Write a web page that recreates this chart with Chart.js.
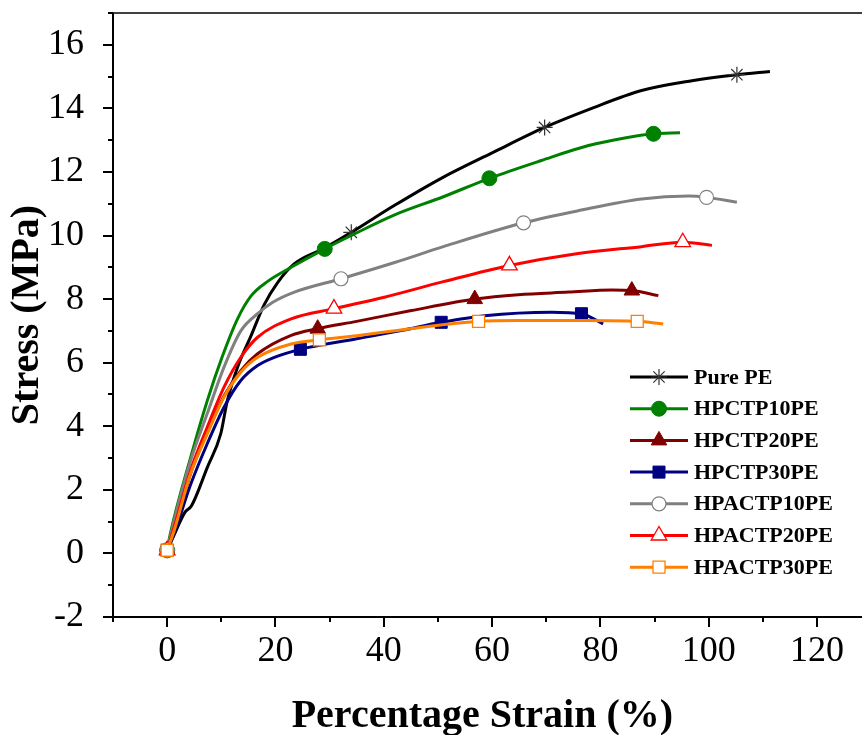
<!DOCTYPE html>
<html>
<head>
<meta charset="utf-8">
<script src="https://cdn.jsdelivr.net/npm/chart.js"></script>
<style>
  html, body { margin: 0; padding: 0; background: #fff; }
  canvas { display: block; }
</style>
</head>
<body>
<canvas id="stressChart" width="862" height="735"></canvas>
<script>
// stress-strain curves (x = strain %, y = stress MPa)
const pureX = [0, 1.2, 3.3, 4.5, 7.4, 9.9, 11.1, 13, 15.5, 17.9, 20.4, 23.4, 29, 34, 42, 50.6, 60, 69.7, 78.4, 87.6, 96.9, 105.2, 111.3];
const pureY = [0.1, 0.55, 1.3, 1.5, 2.7, 3.77, 4.8, 5.86, 6.85, 7.82, 8.52, 9.1, 9.6, 10.1, 10.95, 11.8, 12.6, 13.4, 14.0, 14.56, 14.87, 15.06, 15.16];
const pureMarks = [0, 34, 69.7, 105.2];

const hpctp10X = [0, 0.6, 4.3, 7.4, 10.2, 13, 15.5, 18.5, 22.9, 29.1, 34, 42, 51, 59.5, 69.1, 77.8, 84.5, 89.8, 94.7];
const hpctp10Y = [0.1, 0.63, 3.0, 4.8, 6.2, 7.38, 8.1, 8.55, 9.0, 9.58, 10.0, 10.65, 11.22, 11.8, 12.36, 12.83, 13.07, 13.2, 13.23];
const hpctp10Marks = [0, 29.1, 59.5, 89.8];

const hpctp20X = [0, 1.3, 4.3, 7.4, 10.5, 13.6, 16.7, 22.9, 27.8, 35, 45.1, 56.8, 64.8, 74.1, 82.1, 85.8, 90.7];
const hpctp20Y = [0.1, 0.7, 2.5, 3.8, 4.95, 5.75, 6.28, 6.86, 7.07, 7.3, 7.64, 8.0, 8.14, 8.22, 8.29, 8.27, 8.11];
const hpctp20Marks = [0, 27.8, 56.8, 85.8];

const hpctp30X = [0, 1.3, 4.3, 7.4, 10.5, 13.6, 16.7, 19.8, 24.6, 35, 43.2, 50.6, 58.6, 71, 76.5, 80.5];
const hpctp30Y = [0.1, 0.63, 2.15, 3.45, 4.6, 5.44, 5.91, 6.17, 6.42, 6.75, 7.01, 7.27, 7.48, 7.59, 7.54, 7.22];
const hpctp30Marks = [0, 24.6, 50.6, 76.5];

const hpactp10X = [0, 1.3, 4.3, 7.4, 10.5, 13.6, 16.7, 19.5, 23.5, 32.1, 42, 51, 65.8, 76.5, 87.6, 96.3, 99.6, 105.2];
const hpactp10Y = [0.1, 1.04, 2.9, 4.4, 5.86, 7.0, 7.54, 7.9, 8.22, 8.64, 9.15, 9.65, 10.4, 10.8, 11.15, 11.24, 11.2, 11.05];
const hpactp10Marks = [0, 32.1, 65.8, 99.6];

const hpactp20X = [0, 1.3, 4.3, 7.4, 10.5, 13.6, 16.7, 22.9, 30.8, 40.1, 51, 63.2, 75.3, 87.6, 95.2, 100.6];
const hpactp20Y = [0.1, 0.83, 2.6, 3.97, 5.23, 6.17, 6.8, 7.38, 7.7, 8.06, 8.55, 9.06, 9.42, 9.65, 9.79, 9.69];
const hpactp20Marks = [0, 30.8, 63.2, 95.2];

const hpactp30X = [0, 1.3, 4.3, 7.4, 10.5, 13.6, 16.7, 22.9, 28.1, 35, 43.2, 57.5, 64.8, 77.1, 86.8, 91.6];
const hpactp30Y = [0.1, 0.72, 2.5, 3.76, 4.92, 5.7, 6.17, 6.59, 6.72, 6.85, 7.03, 7.3, 7.33, 7.33, 7.3, 7.22];
const hpactp30Marks = [0, 28.1, 57.5, 86.8];

const xTickLabels = [0, 20, 40, 60, 80, 100, 120];
const yTickLabels = [-2, 0, 2, 4, 6, 8, 10, 12, 14, 16];

const series = [
  { label: "Pure PE", xs: pureX, ys: pureY, marks: pureMarks, color: "#000000", style: "star", r: 8, fill: "#000000", edge: "#333333", edgeW: 1.2 },
  { label: "HPCTP10PE", xs: hpctp10X, ys: hpctp10Y, marks: hpctp10Marks, color: "#008000", style: "circle", r: 7.5, fill: "#008000", edge: "#008000", edgeW: 1 },
  { label: "HPCTP20PE", xs: hpctp20X, ys: hpctp20Y, marks: hpctp20Marks, color: "#800000", style: "triangle", r: 9, fill: "#800000", edge: "#800000", edgeW: 1 },
  { label: "HPCTP30PE", xs: hpctp30X, ys: hpctp30Y, marks: hpctp30Marks, color: "#000080", style: "rect", r: 8.5, fill: "#000080", edge: "#000080", edgeW: 1 },
  { label: "HPACTP10PE", xs: hpactp10X, ys: hpactp10Y, marks: hpactp10Marks, color: "#808080", style: "circle", r: 7, fill: "#ffffff", edge: "#808080", edgeW: 1.2 },
  { label: "HPACTP20PE", xs: hpactp20X, ys: hpactp20Y, marks: hpactp20Marks, color: "#ff0000", style: "triangle", r: 9, fill: "#ffffff", edge: "#ff0000", edgeW: 1.3 },
  { label: "HPACTP30PE", xs: hpactp30X, ys: hpactp30Y, marks: hpactp30Marks, color: "#ff8000", style: "rect", r: 8.5, fill: "#ffffff", edge: "#ff8000", edgeW: 1.3 },
];

const serif = "'Liberation Serif', 'Times New Roman', serif";

// frame, tick marks (major + minor); frame runs off the right edge like the original
const framePlugin = {
  id: "frame",
  afterDatasetsDraw(chart) {
    const { ctx, chartArea } = chart;
    const xs = chart.scales.x;
    const ys = chart.scales.y;
    const farRight = chart.width;
    ctx.save();
    ctx.strokeStyle = "#000";
    ctx.lineWidth = 1.5;
    ctx.beginPath();
    ctx.moveTo(chartArea.left, chartArea.top);
    ctx.lineTo(farRight, chartArea.top);
    ctx.stroke();

    ctx.lineWidth = 2;
    ctx.beginPath();
    ctx.moveTo(chartArea.left, chartArea.top);
    ctx.lineTo(chartArea.left, chartArea.bottom);
    ctx.lineTo(farRight, chartArea.bottom);
    ctx.stroke();

    ctx.beginPath();
    for (let v = Math.ceil(ys.min); v <= ys.max; v++) {
      const len = v % 2 === 0 ? 10 : 5;
      const py = Math.round(ys.getPixelForValue(v));
      ctx.moveTo(chartArea.left, py);
      ctx.lineTo(chartArea.left - len, py);
    }
    for (let v = -10; v <= 130; v += 10) {
      const len = v % 20 === 0 ? 10 : 5;
      const px = Math.round(xs.getPixelForValue(v));
      if (px > farRight) continue;
      ctx.moveTo(px, chartArea.bottom);
      ctx.lineTo(px, chartArea.bottom + len);
    }
    ctx.stroke();
    ctx.restore();
  },
};

// Origin-style legend: line + marker + bold label
const legendPlugin = {
  id: "originLegend",
  afterDraw(chart) {
    const { ctx } = chart;
    ctx.save();
    series.forEach((s, i) => {
      const y = 377 + i * 31.7;
      ctx.strokeStyle = s.color;
      ctx.lineWidth = 3;
      ctx.beginPath();
      ctx.moveTo(630, y);
      ctx.lineTo(688, y);
      ctx.stroke();
      ctx.fillStyle = s.fill;
      ctx.strokeStyle = s.edge;
      ctx.lineWidth = s.edgeW;
      Chart.helpers.drawPoint(ctx, { pointStyle: s.style, radius: s.r, borderWidth: s.edgeW, rotation: 0 }, 659, y);
      ctx.fillStyle = "#000";
      ctx.font = "bold 22px " + serif;
      ctx.textBaseline = "middle";
      ctx.textAlign = "left";
      ctx.fillText(s.label, 694, y + 1);
    });
    ctx.restore();
  },
};

new Chart(document.getElementById("stressChart"), {
  type: "line",
  data: {
    datasets: series.map((s, i) => ({
      label: s.label,
      data: s.xs.map((x, k) => ({ x: x, y: s.ys[k] })),
      borderColor: s.color,
      borderWidth: 3,
      cubicInterpolationMode: "monotone",
      pointStyle: s.style,
      pointRadius: (c) => (s.marks.includes(s.xs[c.dataIndex]) ? s.r : 0),
      pointBackgroundColor: s.fill,
      pointBorderColor: s.edge,
      pointBorderWidth: s.edgeW,
      order: series.length - i,
    })),
  },
  options: {
    responsive: false,
    animation: false,
    layout: { padding: { top: 13, left: 0, right: 0, bottom: 0 } },
    plugins: {
      legend: { display: false },
      tooltip: { enabled: false },
    },
    scales: {
      x: {
        type: "linear",
        min: -10,
        max: 126.4,
        grid: { display: false },
        border: { display: false },
        afterBuildTicks: (s) => { s.ticks = xTickLabels.map((v) => ({ value: v })); },
        afterFit: (s) => { s.height = 118; s.paddingLeft = 0; s.paddingRight = 0; },
        ticks: { color: "#000", padding: 5, maxRotation: 0, font: { family: serif, size: 36 } },
        title: {
          display: true,
          text: "Percentage Strain (%)",
          color: "#000",
          padding: { top: 0, bottom: -6 },
          font: { family: serif, size: 40, weight: "bold" },
        },
      },
      y: {
        min: -2,
        max: 17,
        grid: { display: false },
        border: { display: false },
        afterBuildTicks: (s) => { s.ticks = yTickLabels.map((v) => ({ value: v })); },
        afterFit: (s) => { s.width = 113; s.paddingTop = 0; s.paddingBottom = 0; },
        ticks: { color: "#000", padding: 21, font: { family: serif, size: 36 } },
        title: {
          display: true,
          text: "Stress (MPa)",
          color: "#000",
          padding: { top: 4, bottom: 0 },
          font: { family: serif, size: 40, weight: "bold" },
        },
      },
    },
  },
  plugins: [framePlugin, legendPlugin],
});
</script>
</body>
</html>
